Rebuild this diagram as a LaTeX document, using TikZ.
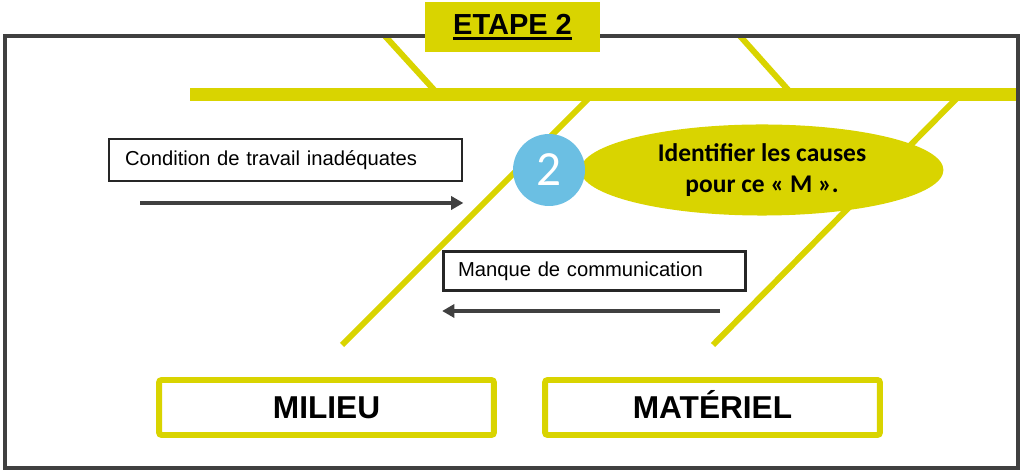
\documentclass[tikz,border=0pt]{standalone}
\usepackage{fontspec}
\setmainfont{Liberation Sans}
\newfontfamily\calib{Carlito}
\usetikzlibrary{arrows.meta,shapes.geometric}
\definecolor{fishy}{HTML}{D9D400}
\definecolor{badge}{HTML}{6BBFE3}
\definecolor{frm}{HTML}{404040}
\newcommand\thickul[1]{\vtop{\hbox{#1}\kern1.4pt\hrule height 1.8pt}}

\begin{document}
\begin{tikzpicture}[
        x=0.02cm, y=-0.02cm,
        bone/.style={draw=fishy, line width=3.4pt},
        cause/.style={rectangle, draw=black!85, line width=1.6pt, fill=white,
                      minimum height=0.84cm, align=left,
                      font=\fontsize{11.5}{13}\selectfont},
        mbox/.style={rectangle, draw=fishy, line width=3.4pt, rounded corners=1.5pt,
                     fill=white, minimum width=6.7cm, minimum height=1.1cm,
                     text height=13pt, text depth=0pt,
                     font=\fontsize{18}{20}\selectfont\bfseries},
        arr/.style={-{Triangle[length=7pt,width=7.5pt]}, line width=2pt, draw=frm}
      ]
        \useasboundingbox (0,0) rectangle (1024,475);

        \draw[bone] (385,36) -- (436,92);
        \draw[bone] (740,36) -- (790,92);
        \draw[bone] (590,97) -- (342,345);
        \draw[bone] (958,97) -- (713,345);
        \draw[bone, line width=7.4pt] (190,95) -- (1016,95);
        \draw[frm, line width=2.8pt] (5,36) rectangle (1018,468);

        \node[fill=fishy, minimum width=3.5cm, minimum height=1cm,
              font=\fontsize{16.5}{18}\selectfont\bfseries] (T) at (512.5,27) {\thickul{ETAPE 2}};

        \node[cause, inner xsep=0.32cm, text width=6.42cm] (C1) at (285.5,160)
          {Condition de travail inadéquates};
        \node[cause, inner xsep=0.29cm, text width=5.46cm, minimum height=0.78cm] (C2) at (594.5,271)
          {Manque de communication};

        \coordinate (a1) at (140,203);
        \coordinate (a2) at (720,311);
        \draw[arr] (a1) -- (a1 -| C1.east);
        \draw[arr] (a2) -- (a2 -| C2.west);

        \node[ellipse, fill=fishy, minimum width=7.26cm, minimum height=1.5cm, align=center,
              font=\calib\bfseries\fontsize{14.5}{17.5}\selectfont] (E) at (762,170)
          {Identifier les causes\\pour ce « M ».};
        \node[circle, fill=badge, minimum size=1.44cm, inner sep=0pt, text=white,
              font=\calib\fontsize{28}{28}\selectfont] (N) at (549,170) {2};

        \node[mbox] (M1) at (326.5,407.5) {MILIEU};
        \node[mbox] (M2) at (712.5,407.5) {MATÉRIEL};
      \end{tikzpicture}
\end{document}
